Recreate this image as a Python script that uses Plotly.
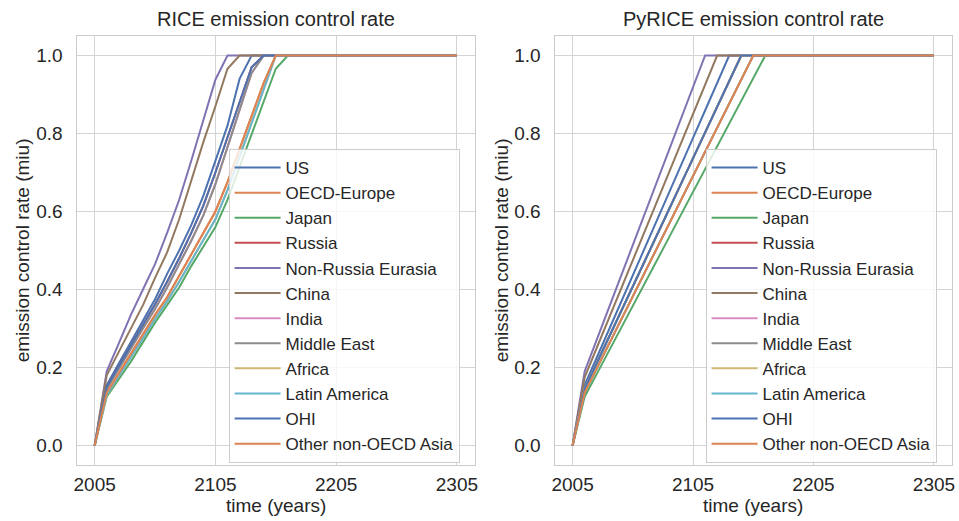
import plotly.graph_objects as go

years = [2005, 2015, 2025, 2035, 2045, 2055, 2065, 2075, 2085, 2095, 2105,
         2115, 2125, 2135, 2145, 2155, 2165, 2175, 2185, 2195, 2205,
         2215, 2225, 2235, 2245, 2255, 2265, 2275, 2285, 2295, 2305]

regions = ["US", "OECD-Europe", "Japan", "Russia", "Non-Russia Eurasia", "China",
           "India", "Middle East", "Africa", "Latin America", "OHI", "Other non-OECD Asia"]

colors = ["#4C72B0", "#DD8452", "#55A868", "#C44E52", "#8172B3", "#937860",
          "#DA8BC3", "#8C8C8C", "#CCB974", "#64B5CD", "#4C72B0", "#DD8452"]

x_ticks = [2005, 2105, 2205, 2305]
y_ticks = [0.0, 0.2, 0.4, 0.6, 0.8, 1.0]

# RICE (left panel)
rice_nre = [0, .19, .262, .335, .40, .465, .545, .63, .73, .832, .938,
            1, 1, 1, 1, 1, 1, 1, 1, 1, 1, 1, 1, 1, 1, 1, 1, 1, 1, 1, 1]
rice_china = [0, .18, .24, .30, .36, .43, .495, .58, .68, .778, .87,
              .966, 1, 1, 1, 1, 1, 1, 1, 1, 1, 1, 1, 1, 1, 1, 1, 1, 1, 1, 1]
rice_us = [0, .155, .21, .265, .32, .375, .44, .50, .565, .64, .73,
           .82, .94, 1, 1, 1, 1, 1, 1, 1, 1, 1, 1, 1, 1, 1, 1, 1, 1, 1, 1]
rice_ohi = [0, .15, .203, .257, .31, .362, .42, .48, .545, .615, .70,
            .79, .885, .97, 1, 1, 1, 1, 1, 1, 1, 1, 1, 1, 1, 1, 1, 1, 1, 1, 1]
rice_me = [0, .145, .197, .25, .30, .35, .405, .465, .525, .59, .67,
           .765, .86, .955, 1, 1, 1, 1, 1, 1, 1, 1, 1, 1, 1, 1, 1, 1, 1, 1, 1]
rice_onoa = [0, .135, .185, .235, .285, .335, .38, .435, .49, .545, .60,
             .675, .76, .845, .93, 1, 1, 1, 1, 1, 1, 1, 1, 1, 1, 1, 1, 1, 1, 1, 1]
rice_la = [0, .13, .178, .225, .275, .325, .37, .42, .475, .527, .58,
           .655, .74, .825, .915, 1, 1, 1, 1, 1, 1, 1, 1, 1, 1, 1, 1, 1, 1, 1, 1]
rice_japan = [0, .125, .17, .215, .265, .315, .36, .405, .46, .51, .56,
              .63, .715, .80, .885, .966, 1, 1, 1, 1, 1, 1, 1, 1, 1, 1, 1, 1, 1, 1, 1]

# PyRICE (right panel)
py_nre = [0, .19, .271, .352, .433, .514, .595, .676, .757, .838, .919,
          1, 1, 1, 1, 1, 1, 1, 1, 1, 1, 1, 1, 1, 1, 1, 1, 1, 1, 1, 1]
py_china = [0, .175, .25, .325, .40, .475, .55, .625, .70, .775, .85,
            .925, 1, 1, 1, 1, 1, 1, 1, 1, 1, 1, 1, 1, 1, 1, 1, 1, 1, 1, 1]
py_us = [0, .155, .225, .296, .366, .437, .507, .577, .648, .718, .789,
         .859, .930, 1, 1, 1, 1, 1, 1, 1, 1, 1, 1, 1, 1, 1, 1, 1, 1, 1, 1]
py_ohi = [0, .145, .211, .276, .342, .408, .474, .539, .605, .671, .737,
          .803, .868, .934, 1, 1, 1, 1, 1, 1, 1, 1, 1, 1, 1, 1, 1, 1, 1, 1, 1]
py_onoa = [0, .135, .197, .259, .320, .382, .444, .506, .568, .629, .691,
           .753, .815, .876, .938, 1, 1, 1, 1, 1, 1, 1, 1, 1, 1, 1, 1, 1, 1, 1, 1]
py_japan = [0, .125, .183, .242, .300, .358, .417, .475, .533, .592, .650,
            .708, .767, .825, .883, .942, 1, 1, 1, 1, 1, 1, 1, 1, 1, 1, 1, 1, 1, 1, 1]

rice_series = {
    "US": rice_us, "OECD-Europe": rice_onoa, "Japan": rice_japan, "Russia": rice_ohi,
    "Non-Russia Eurasia": rice_nre, "China": rice_china, "India": rice_me,
    "Middle East": rice_me, "Africa": rice_la, "Latin America": rice_la,
    "OHI": rice_ohi, "Other non-OECD Asia": rice_onoa,
}
py_series = {
    "US": py_us, "OECD-Europe": py_onoa, "Japan": py_japan, "Russia": py_ohi,
    "Non-Russia Eurasia": py_nre, "China": py_china, "India": py_ohi,
    "Middle East": py_ohi, "Africa": py_ohi, "Latin America": py_onoa,
    "OHI": py_ohi, "Other non-OECD Asia": py_onoa,
}

W, H = 959, 521
FONT = "Liberation Sans, Arial, sans-serif"
TXT = "#262626"

fig = go.Figure()
for reg, col in zip(regions, colors):
    fig.add_trace(go.Scatter(x=years, y=rice_series[reg], mode="lines", name=reg,
                             line=dict(color=col, width=2), xaxis="x", yaxis="y",
                             legend="legend"))
for reg, col in zip(regions, colors):
    fig.add_trace(go.Scatter(x=years, y=py_series[reg], mode="lines", name=reg,
                             line=dict(color=col, width=2), xaxis="x2", yaxis="y2",
                             legend="legend2"))

def px_x(p):
    return p / W

def px_y(p):
    return (H - p) / H

axis_common = dict(showgrid=True, gridcolor="#d4d4d4", gridwidth=1, zeroline=False,
                   showline=True, linecolor="#cccccc", linewidth=1.3, mirror=True,
                   ticks="outside", tickcolor="rgba(0,0,0,0)",
                   tickfont=dict(size=19, color=TXT, family=FONT))

xdom1 = [px_x(74), px_x(475)]
xdom2 = [px_x(555), px_x(955)]
ydom = [px_y(465), px_y(36)]

leg_common = dict(xanchor="left", yanchor="top", itemwidth=46,
                  bgcolor="rgba(255,255,255,0.8)", bordercolor="#cccccc", borderwidth=1,
                  font=dict(size=17, color=TXT, family=FONT))

fig.update_layout(
    width=W, height=H, margin=dict(l=0, r=0, t=0, b=0),
    paper_bgcolor="white", plot_bgcolor="white",
    font=dict(family=FONT, color=TXT),
    xaxis=dict(domain=xdom1, range=[1990, 2320], tickvals=x_ticks, anchor="y",
               ticklen=2, **axis_common),
    yaxis=dict(domain=ydom, range=[-0.05, 1.05], tickvals=y_ticks, tickformat=".1f",
               anchor="x", ticklen=9, **axis_common),
    xaxis2=dict(domain=xdom2, range=[1990, 2320], tickvals=x_ticks, anchor="y2",
                ticklen=2, **axis_common),
    yaxis2=dict(domain=ydom, range=[-0.05, 1.05], tickvals=y_ticks, tickformat=".1f",
                anchor="x2", ticklen=9, **axis_common),
    legend=dict(x=px_x(227), y=px_y(149), **leg_common),
    legend2=dict(x=px_x(707), y=px_y(149), **leg_common),
)

ann = []
for cx, title in [((74 + 475) / 2, "RICE emission control rate"),
                  ((555 + 955) / 2, "PyRICE emission control rate")]:
    ann.append(dict(text=title, x=px_x(cx), y=px_y(19), xref="paper", yref="paper",
                    xanchor="center", yanchor="middle", showarrow=False,
                    font=dict(size=20, color=TXT, family=FONT)))
    ann.append(dict(text="time (years)", x=px_x(cx), y=px_y(505), xref="paper", yref="paper",
                    xanchor="center", yanchor="middle", showarrow=False,
                    font=dict(size=19, color=TXT, family=FONT)))
for lx in [20, 502]:
    ann.append(dict(text="emission control rate (miu)", x=px_x(lx), y=px_y(250.5),
                    xref="paper", yref="paper", xanchor="center", yanchor="middle",
                    textangle=-90, showarrow=False,
                    font=dict(size=19, color=TXT, family=FONT)))
fig.update_layout(annotations=ann)

fig.write_html("out.html")
